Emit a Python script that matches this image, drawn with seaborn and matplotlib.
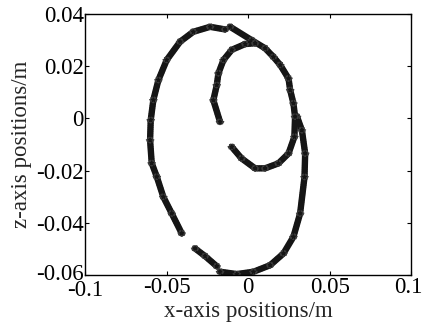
import numpy as np
import pandas as pd
import matplotlib
matplotlib.use("Agg")
import matplotlib.pyplot as plt
import matplotlib.patheffects as pe
import matplotlib.transforms as mtransforms
import seaborn as sns

# Trajectory segments (x, z) in metres
seg1_x = [-0.0141, -0.0233, -0.0336, -0.0417, -0.0499, -0.0550, -0.0581, -0.0597, -0.0601, -0.0591, -0.0560, -0.0520, -0.0468, -0.0407]
seg1_z = [0.0341, 0.0351, 0.0332, 0.0294, 0.0224, 0.0147, 0.0071, -0.0006, -0.0083, -0.0171, -0.0223, -0.0300, -0.0364, -0.0440]

seg2_x = [-0.0325, -0.0264, -0.0192]
seg2_z = [-0.0498, -0.0527, -0.0566]

seg3_x = [-0.0172, -0.0069, 0.0033, 0.0135, 0.0217, 0.0278, 0.0319, 0.0346, 0.0350, 0.0330, 0.0300]
seg3_z = [-0.0587, -0.0596, -0.0587, -0.0562, -0.0517, -0.0453, -0.0364, -0.0224, -0.0134, -0.0045, 0.0007]

seg4_x = [-0.0110, 0.0022, 0.0104, 0.0155, 0.0197, 0.0248, 0.0258, 0.0278, 0.0288, 0.0284, 0.0248, 0.0186, 0.0104, 0.0043, -0.0040, -0.0100]
seg4_z = [0.0351, 0.0300, 0.0269, 0.0236, 0.0205, 0.0153, 0.0109, 0.0058, 0.0007, -0.0070, -0.0134, -0.0172, -0.0191, -0.0191, -0.0153, -0.0109]

seg5_x = [0.0043, -0.0018, -0.0100, -0.0151, -0.0182, -0.0192, -0.0213, -0.0172]
seg5_z = [0.0288, 0.0285, 0.0263, 0.0224, 0.0173, 0.0128, 0.0070, -0.0013]

segments = [(seg1_x, seg1_z), (seg2_x, seg2_z), (seg3_x, seg3_z), (seg4_x, seg4_z), (seg5_x, seg5_z)]

x_ticks = [-0.1, -0.05, 0, 0.05, 0.1]
x_tick_labels = ["-0.1", "-0.05", "0", "0.05", "0.1"]
z_ticks = [-0.06, -0.04, -0.02, 0, 0.02, 0.04]
z_tick_labels = ["-0.06", "-0.04", "-0.02", "0", "0.02", "0.04"]

sns.set_style("ticks")
plt.rcParams["font.family"] = ["Liberation Serif", "DejaVu Serif"]
FS = 16.5
plt.rcParams["font.size"] = FS

fig = plt.figure(figsize=(4.23, 3.26), dpi=100)
ax = fig.add_axes([0.201, 0.156, 0.771, 0.801])

fuzz = [pe.TickedStroke(spacing=1.4, angle=a, length=1.2, linewidth=0.9, foreground="#3a3a3a")
        for a in (90, -90, 45, -45, 135, -135)]

for sx, sz in segments:
    df = pd.DataFrame({"x": sx, "z": sz})
    sns.lineplot(data=df, x="x", y="z", sort=False, estimator=None, ax=ax,
                 color="#151515", linewidth=4.6, marker="*", markersize=3.0,
                 markeredgecolor="#151515", markerfacecolor="#151515",
                 solid_joinstyle="round", solid_capstyle="round",
                 path_effects=fuzz + [pe.Normal()])

ax.set_xlim(-0.1, 0.1)
ax.set_ylim(-0.06, 0.04)
ax.set_xticks(x_ticks)
ax.set_xticklabels(x_tick_labels)
ax.set_yticks(z_ticks)
ax.set_yticklabels(z_tick_labels)
ax.tick_params(direction="in", length=3, width=0.8, top=True, right=True,
               labelsize=FS, colors="black", pad=1)
ax.tick_params(axis="x", pad=1)
for s in ax.spines.values():
    s.set_visible(True)
    s.set_linewidth(1.0)
    s.set_color("black")
ax.set_xlabel("x-axis positions/m", fontsize=FS, labelpad=0)
ax.set_ylabel("z-axis positions/m", fontsize=FS, labelpad=3)

# keep the last x tick label inside the canvas, and ease the corner overlap
xlabels = ax.get_xticklabels()
xlabels[-1].set_transform(xlabels[-1].get_transform() +
                          mtransforms.ScaledTranslation(-3 / 100, 0, fig.dpi_scale_trans))
xlabels[0].set_transform(xlabels[0].get_transform() +
                         mtransforms.ScaledTranslation(0, -3 / 100, fig.dpi_scale_trans))
ylabels = ax.get_yticklabels()
ylabels[0].set_transform(ylabels[0].get_transform() +
                         mtransforms.ScaledTranslation(0, 3 / 100, fig.dpi_scale_trans))

fig.savefig("out.png", dpi=100)
